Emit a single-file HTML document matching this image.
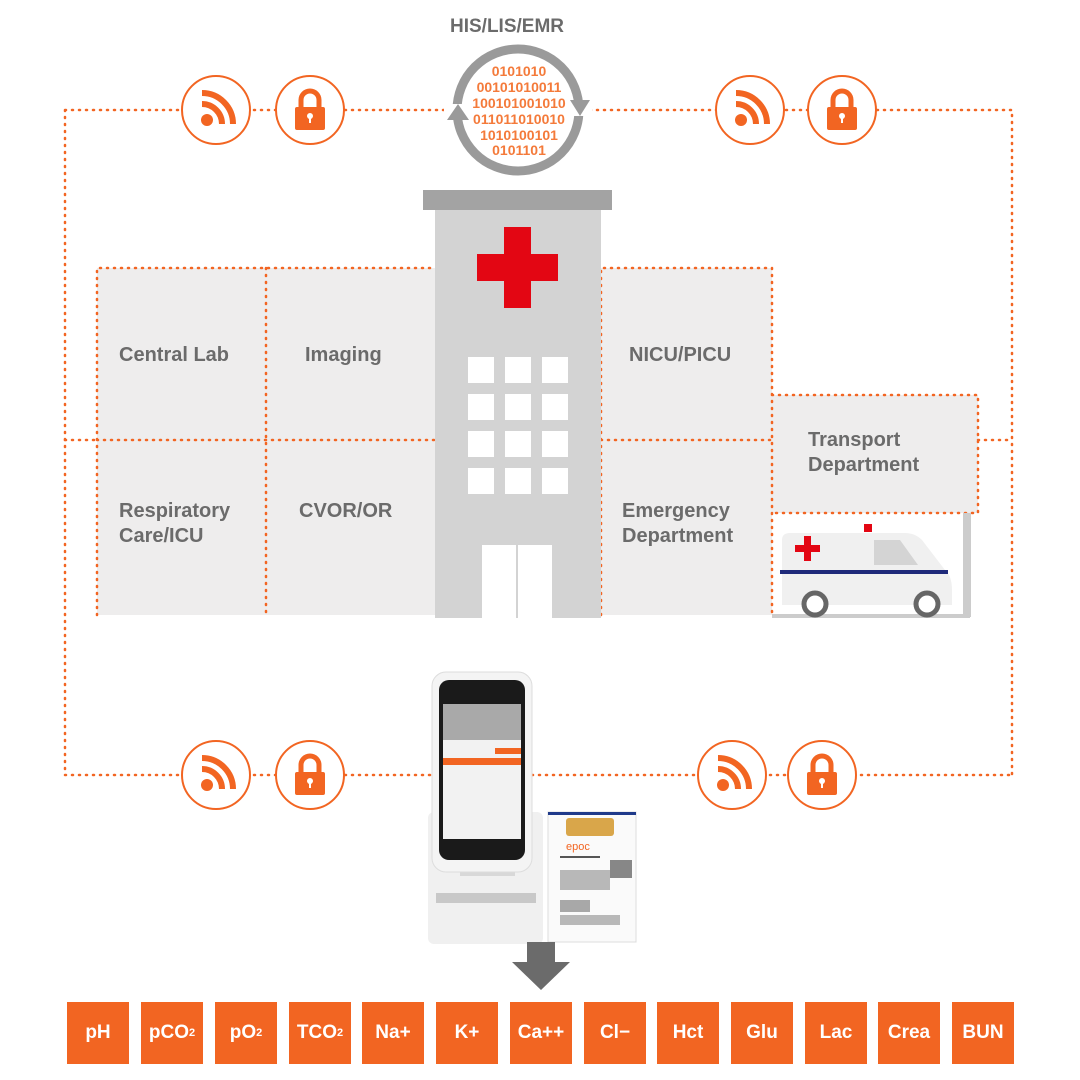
<!DOCTYPE html>
<html><head><meta charset="utf-8"><style>
body{margin:0;width:1080px;height:1080px;background:#fff;position:relative;overflow:hidden;font-family:"Liberation Sans",sans-serif}
.a{position:absolute}
.lbl{position:absolute;color:#6b6b6b;font-weight:bold;font-size:20px;line-height:25px}
.b{position:absolute;top:1002px;width:62px;height:62px;background:#f26522;color:#fff;font-size:19px;font-weight:bold;display:flex;align-items:center;justify-content:center}
.b sub{font-size:11px;vertical-align:-5px}
</style></head><body>
<svg class="a" style="left:0;top:0" width="1080" height="1080">
<g fill="#eeeded">
<rect x="97" y="268" width="338" height="347"/>
<rect x="601" y="268" width="171" height="347"/>
<rect x="772" y="395" width="206" height="118"/>
</g>
<g stroke="#f26522" stroke-width="2.5" stroke-dasharray="1 6" stroke-linecap="round" fill="none">
<path d="M65 110H1012V775M65 110V775H440M525 775H1012"/>
<path d="M97 615V268H435M266 268V615M97 440H435M65 440H97"/>
<path d="M601 615V268H772V615M601 440H772M772 395H978V513H772M978 440H1012"/>
</g>
<rect x="963" y="513" width="8" height="104" fill="#ccc"/>
<rect x="772" y="614" width="198" height="4" fill="#ccc"/>
<!-- ambulance -->
<path d="M782 540 Q782 533 790 533 H905 Q915 533 922 540 L945 570 Q952 576 952 590 V605 H782 Z" fill="#f0f0f0"/>
<path d="M874 540 H900 L918 565 H874Z" fill="#d4d4d4"/>
<rect x="864" y="524" width="8" height="8" fill="#e30613"/>
<rect x="795" y="545" width="25" height="7" fill="#e30613"/><rect x="804" y="536" width="7" height="25" fill="#e30613"/>
<rect x="780" y="570" width="168" height="4" fill="#1f2a7a"/>
<circle cx="815" cy="604" r="11" fill="#fff" stroke="#666" stroke-width="5"/>
<circle cx="927" cy="604" r="11" fill="#fff" stroke="#666" stroke-width="5"/>
<!-- building -->
<rect x="423" y="190" width="189" height="20" fill="#a3a3a3"/>
<rect x="435" y="210" width="166" height="408" fill="#d3d3d3"/>
<rect x="477" y="254" width="81" height="27" fill="#e30613"/><rect x="504" y="227" width="27" height="81" fill="#e30613"/>
<g fill="#fff">
<rect x="468" y="357" width="26" height="26"/><rect x="505" y="357" width="26" height="26"/><rect x="542" y="357" width="26" height="26"/>
<rect x="468" y="394" width="26" height="26"/><rect x="505" y="394" width="26" height="26"/><rect x="542" y="394" width="26" height="26"/>
<rect x="468" y="431" width="26" height="26"/><rect x="505" y="431" width="26" height="26"/><rect x="542" y="431" width="26" height="26"/>
<rect x="468" y="468" width="26" height="26"/><rect x="505" y="468" width="26" height="26"/><rect x="542" y="468" width="26" height="26"/>
<rect x="482" y="545" width="70" height="73"/>
</g>
<rect x="516" y="545" width="2" height="73" fill="#d3d3d3"/>
<!-- HIS circle -->
<circle cx="518" cy="110" r="61" fill="#fff" stroke="#9a9a9a" stroke-width="9"/>
<rect x="444" y="104" width="20" height="16" fill="#fff"/><rect x="572" y="100" width="20" height="16" fill="#fff"/>
<path d="M447 120 L458 104 L469 120Z" fill="#9a9a9a"/><path d="M570 100 L590 100 L580 116Z" fill="#9a9a9a"/>
<g font-family="Liberation Sans" font-weight="bold" font-size="14" fill="#f47a3a" text-anchor="middle">
<text x="519" y="76">0101010</text>
<text x="519" y="92">00101010011</text>
<text x="519" y="108">100101001010</text>
<text x="519" y="124">011011010010</text>
<text x="519" y="140">1010100101</text>
<text x="519" y="155">0101101</text>
</g>
<!-- icons -->
<defs>
<g id="w"><circle r="34" fill="#fff" stroke="#f26522" stroke-width="2"/><circle cx="-9" cy="10" r="6" fill="#f26522"/><path d="M-14 -6 A20 20 0 0 1 6 14" fill="none" stroke="#f26522" stroke-width="6"/><path d="M-14 -17 A31 31 0 0 1 17 14" fill="none" stroke="#f26522" stroke-width="6"/></g>
<g id="l"><circle r="34" fill="#fff" stroke="#f26522" stroke-width="2"/><path d="M-9 -3 V-10 A9 9 0 0 1 9 -10 V-3" fill="none" stroke="#f26522" stroke-width="5"/><rect x="-15" y="-3" width="30" height="23" rx="2" fill="#f26522"/><circle cy="6" r="3" fill="#fff"/><rect x="-1" y="6" width="2" height="7" fill="#fff"/></g>
</defs>
<use href="#w" x="216" y="110"/><use href="#l" x="310" y="110"/>
<use href="#w" x="750" y="110"/><use href="#l" x="842" y="110"/>
<use href="#w" x="216" y="775"/><use href="#l" x="310" y="775"/>
<use href="#w" x="732" y="775"/><use href="#l" x="822" y="775"/>
<!-- device -->
<rect x="428" y="812" width="115" height="132" rx="6" fill="#f0f0f0"/>
<rect x="436" y="893" width="100" height="10" fill="#c8c8c8"/>
<rect x="460" y="862" width="55" height="14" fill="#d8d8d8"/>
<rect x="432" y="672" width="100" height="200" rx="14" fill="#f4f4f4" stroke="#ddd"/>
<rect x="439" y="680" width="86" height="180" rx="10" fill="#1a1a1a"/>
<rect x="443" y="704" width="78" height="135" fill="#f2f2f2"/>
<rect x="443" y="704" width="78" height="36" fill="#a9a9a9"/>
<rect x="495" y="748" width="26" height="6" fill="#f26522"/>
<rect x="443" y="758" width="78" height="7" fill="#f26522"/>
<!-- card -->
<rect x="548" y="812" width="88" height="130" fill="#fafafa" stroke="#ddd"/>
<rect x="548" y="812" width="88" height="3" fill="#1f3a8a"/>
<rect x="566" y="818" width="48" height="18" rx="3" fill="#d9a64a"/>
<text x="566" y="850" font-family="Liberation Sans" font-size="11" fill="#f26522">epoc</text>
<g fill="#555"><rect x="560" y="856" width="40" height="2"/><rect x="560" y="870" width="50" height="20" opacity=".4"/><rect x="610" y="860" width="22" height="18" opacity=".7"/><rect x="560" y="900" width="30" height="12" opacity=".5"/><rect x="560" y="915" width="60" height="10" opacity=".4"/></g>
<!-- arrow -->
<path d="M527 942 H555 V962 H570 L541 990 L512 962 H527Z" fill="#6b6b6b"/>
</svg>
<div class="lbl" style="left:450px;top:14px;font-size:19px">HIS/LIS/EMR</div>
<div class="lbl" style="left:119px;top:343px">Central Lab</div>
<div class="lbl" style="left:305px;top:343px">Imaging</div>
<div class="lbl" style="left:629px;top:343px">NICU/PICU</div>
<div class="lbl" style="left:119px;top:499px">Respiratory<br>Care/ICU</div>
<div class="lbl" style="left:299px;top:499px">CVOR/OR</div>
<div class="lbl" style="left:622px;top:499px">Emergency<br>Department</div>
<div class="lbl" style="left:808px;top:428px">Transport<br>Department</div>
<div class="b" style="left:67px">pH</div>
<div class="b" style="left:141px">pCO<sub>2</sub></div>
<div class="b" style="left:215px">pO<sub>2</sub></div>
<div class="b" style="left:289px">TCO<sub>2</sub></div>
<div class="b" style="left:362px">Na+</div>
<div class="b" style="left:436px">K+</div>
<div class="b" style="left:510px">Ca++</div>
<div class="b" style="left:584px">Cl−</div>
<div class="b" style="left:657px">Hct</div>
<div class="b" style="left:731px">Glu</div>
<div class="b" style="left:805px">Lac</div>
<div class="b" style="left:878px">Crea</div>
<div class="b" style="left:952px">BUN</div>
</body></html>
